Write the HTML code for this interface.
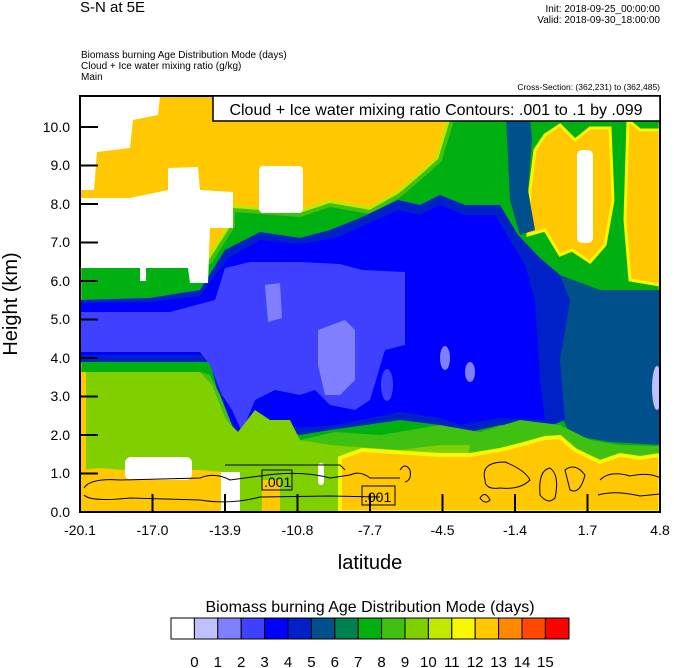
<!DOCTYPE html>
<html><head><meta charset="utf-8"><style>
html,body{margin:0;padding:0;background:#fff}
svg{display:block}
text{font-family:"Liberation Sans",Arial,sans-serif;fill:#000}
</style></head><body>
<svg width="674" height="668" viewBox="0 0 674 668" xmlns="http://www.w3.org/2000/svg">
<defs><clipPath id="pc"><rect x="80" y="96" width="580" height="416"/></clipPath></defs>
<text x="80" y="12" font-size="15">S-N at 5E</text>
<text x="660" y="12" font-size="10" text-anchor="end">Init: 2018-09-25_00:00:00</text>
<text x="660" y="23" font-size="10" text-anchor="end">Valid: 2018-09-30_18:00:00</text>
<text x="81" y="58" font-size="10">Biomass burning Age Distribution Mode   (days)</text>
<text x="81" y="69" font-size="10">Cloud + Ice water mixing ratio   (g/kg)</text>
<text x="81" y="80" font-size="10">Main</text>
<text x="660" y="90" font-size="8.5" text-anchor="end">Cross-Section: (362,231) to (362,485)</text>

<g clip-path="url(#pc)">
<rect x="80" y="96" width="580" height="416" fill="#ffc800"/>
<polygon points="80,262 210,262 233,226 233,210 300,215 330,205 370,212 400,195 420,178 440,160 452,120 458,96 660,96 660,512 80,512" fill="#00b010" stroke="#c0e800" stroke-width="10"/>
<polygon points="80,262 210,262 233,226 233,210 300,215 330,205 370,212 400,195 420,178 440,160 452,120 458,96 660,96 660,512 80,512" fill="#00b010" stroke="#40c010" stroke-width="4"/>
<polygon points="535,150 545,135 560,125 575,140 590,128 610,128 613,200 605,245 590,262 572,250 560,255 545,230 528,235 530,190" fill="#ffc800" stroke="#f8f800" stroke-width="3"/>
<polygon points="628,120 640,130 660,130 660,285 630,280 625,220" fill="#ffc800" stroke="#f8f800" stroke-width="3"/>
<polygon points="505,96 528,96 532,140 528,190 535,230 520,235 510,200" fill="#00508c"/>
<polygon points="560,275 600,290 660,290 660,445 610,442 570,435 555,400" fill="#00508c"/>
<polygon points="80,300 150,298 200,290 225,250 260,232 300,238 330,230 360,218 398,200 420,205 440,195 465,205 500,205 518,235 540,258 560,275 570,300 560,360 565,420 545,428 500,425 470,432 440,425 400,420 330,430 300,435 262,425 240,440 225,420 210,362 80,362" fill="#0020c8"/>
<polygon points="80,303 150,302 200,296 228,258 260,240 300,244 335,238 365,225 398,210 420,215 440,205 465,215 495,215 510,240 525,265 535,300 540,380 545,420 500,418 460,425 440,418 400,412 335,425 300,428 265,418 242,434 228,418 212,355 80,355" fill="#0000ff"/>
<polygon points="80,312 170,312 215,300 225,268 250,262 300,262 340,264 362,270 405,272 405,345 385,350 370,400 355,410 330,405 315,390 300,395 275,390 255,400 242,432 232,410 222,395 210,365 200,352 80,352" fill="#4040ff"/>
<polygon points="360,278 404,275 404,340 380,340 362,330" fill="#4040ff"/>
<polygon points="265,285 280,283 282,318 268,322" fill="#8080ff"/>
<polygon points="318,330 345,320 355,330 355,380 340,395 325,395 318,365" fill="#8080ff"/>
<ellipse cx="445" cy="358" rx="5" ry="12" fill="#8080ff"/>
<ellipse cx="470" cy="372" rx="5" ry="10" fill="#8080ff"/>
<ellipse cx="387" cy="385" rx="6" ry="16" fill="#4040ff"/>
<ellipse cx="657" cy="388" rx="5" ry="22" fill="#c0c0ff"/>
<polygon points="80,372 200,372 210,375 220,395 236,435 250,420 265,428 300,440 335,432 380,435 440,425 480,432 520,420 560,425 590,440 620,445 660,446 660,512 80,512" fill="#40c010"/>
<polygon points="80,372 200,372 212,385 226,420 238,432 255,410 270,420 290,420 300,440 330,445 400,450 440,445 470,445 460,512 80,512" fill="#80d000"/>
<polygon points="340,512 340,458 362,450 440,455 470,455 500,450 520,445 545,438 560,437 575,450 600,462 620,455 640,458 660,455 660,512" fill="#ffc800" stroke="#f8f800" stroke-width="4"/>
<polygon points="80,470 100,468 125,470 200,470 222,472 225,512 80,512" fill="#ffc800"/>
<polygon points="80,372 86,372 86,470 80,470" fill="#ffc800"/>
<rect x="125" y="457" width="67" height="23" rx="6" fill="#fff"/>
<rect x="221" y="472" width="19" height="40" fill="#fff"/>
<rect x="262" y="480" width="18" height="32" fill="#ffc800"/>
<rect x="318" y="463" width="6" height="22" rx="3" fill="#fff"/>
<polygon points="80,96 160,96 158,115 133,120 130,148 97,152 94,190 80,190" fill="#fff"/>
<polygon points="80,198 130,198 168,190 168,168 198,167 200,190 233,192 233,228 210,228 208,283 190,283 188,268 80,268" fill="#fff"/>
<rect x="259" y="166" width="44" height="47" rx="4" fill="#fff"/>
<rect x="577" y="150" width="16" height="93" rx="5" fill="#fff"/>
<rect x="140" y="266" width="6" height="15" fill="#fff"/>
<g fill="none" stroke="#000" stroke-width="1">
<path d="M84,488 Q90,478 120,480 L200,478 Q215,472 230,480 L260,476 Q300,470 330,478 L350,475 Q360,470 370,478 L400,478"/>
<path d="M84,495 Q90,502 130,498 L200,500 Q230,505 260,497 L330,496 L380,497"/>
<path d="M225,465 L340,465 L345,470"/>
<path d="M400,470 Q405,462 410,470 Q412,480 405,482"/>
<path d="M485,480 Q480,462 505,462 Q525,470 530,480 Q520,490 500,488 Q485,490 485,480 Z"/>
<path d="M540,495 Q538,470 550,468 Q560,475 555,498 Q548,505 540,495 Z"/>
<path d="M565,470 Q575,462 585,475 Q580,495 570,490 Z"/>
<path d="M600,480 Q610,470 630,476 Q650,472 660,478"/>
<path d="M598,495 Q615,490 640,496 L660,494"/>
<path d="M480,498 Q485,490 490,500 Q485,505 480,498 Z"/>
</g>
<rect x="262" y="470" width="30" height="20" fill="none" stroke="#000"/>
<text x="264" y="487" font-size="14">.001</text>
<rect x="362" y="486" width="33" height="19" fill="none" stroke="#000"/>
<text x="364" y="502" font-size="14">.001</text>
<g stroke="#000" stroke-width="2">
<line x1="80" y1="127" x2="98" y2="127"/><line x1="80" y1="165.5" x2="98" y2="165.5"/>
<line x1="80" y1="204" x2="98" y2="204"/><line x1="80" y1="242.5" x2="98" y2="242.5"/>
<line x1="80" y1="281" x2="98" y2="281"/><line x1="80" y1="319.5" x2="98" y2="319.5"/>
<line x1="80" y1="358" x2="98" y2="358"/><line x1="80" y1="396.5" x2="98" y2="396.5"/>
<line x1="80" y1="435" x2="98" y2="435"/><line x1="80" y1="473.5" x2="98" y2="473.5"/>
<line x1="152.5" y1="512" x2="152.5" y2="494"/><line x1="225" y1="512" x2="225" y2="494"/>
<line x1="297.5" y1="512" x2="297.5" y2="494"/><line x1="370" y1="512" x2="370" y2="494"/>
<line x1="442.5" y1="512" x2="442.5" y2="494"/><line x1="515" y1="512" x2="515" y2="494"/>
<line x1="587.5" y1="512" x2="587.5" y2="494"/>
</g>
</g>
<rect x="80" y="96" width="580" height="416" fill="none" stroke="#000" stroke-width="2"/>
<rect x="213" y="96" width="447" height="25" fill="#fff" stroke="#000" stroke-width="1.5"/>
<text x="436" y="115" font-size="16" text-anchor="middle">Cloud + Ice water mixing ratio Contours: .001 to .1 by .099</text>

<g font-size="14" text-anchor="end">
<text x="70" y="132">10.0</text><text x="70" y="170">9.0</text><text x="70" y="209">8.0</text>
<text x="70" y="247">7.0</text><text x="70" y="286">6.0</text><text x="70" y="324">5.0</text>
<text x="70" y="363">4.0</text><text x="70" y="401">3.0</text><text x="70" y="440">2.0</text>
<text x="70" y="478">1.0</text><text x="70" y="517">0.0</text>
</g>
<g font-size="14" text-anchor="middle">
<text x="80" y="535">-20.1</text><text x="152.5" y="535">-17.0</text><text x="225" y="535">-13.9</text>
<text x="297.5" y="535">-10.8</text><text x="370" y="535">-7.7</text><text x="442.5" y="535">-4.5</text>
<text x="515" y="535">-1.4</text><text x="587.5" y="535">1.7</text><text x="660" y="535">4.8</text>
</g>
<text x="370" y="569" font-size="20" text-anchor="middle">latitude</text>
<text transform="translate(17,304) rotate(-90)" font-size="20" text-anchor="middle">Height (km)</text>

<text x="370" y="612" font-size="16" text-anchor="middle">Biomass burning Age Distribution Mode  (days)</text>
<g stroke="#000" stroke-width="1">
<rect x="171" y="618" width="23.4" height="21" fill="#ffffff"/>
<rect x="194.4" y="618" width="23.4" height="21" fill="#c0c0ff"/>
<rect x="217.8" y="618" width="23.4" height="21" fill="#8080ff"/>
<rect x="241.2" y="618" width="23.4" height="21" fill="#4040ff"/>
<rect x="264.6" y="618" width="23.4" height="21" fill="#0000ff"/>
<rect x="288" y="618" width="23.4" height="21" fill="#0020c8"/>
<rect x="311.4" y="618" width="23.4" height="21" fill="#00508c"/>
<rect x="334.8" y="618" width="23.4" height="21" fill="#008050"/>
<rect x="358.2" y="618" width="23.4" height="21" fill="#00b010"/>
<rect x="381.6" y="618" width="23.4" height="21" fill="#40c010"/>
<rect x="405" y="618" width="23.4" height="21" fill="#80d000"/>
<rect x="428.4" y="618" width="23.4" height="21" fill="#c0e800"/>
<rect x="451.8" y="618" width="23.4" height="21" fill="#f8f800"/>
<rect x="475.2" y="618" width="23.4" height="21" fill="#ffc800"/>
<rect x="498.6" y="618" width="23.4" height="21" fill="#ff8800"/>
<rect x="522" y="618" width="23.4" height="21" fill="#ff4800"/>
<rect x="545.4" y="618" width="23.6" height="21" fill="#ff0000"/>
</g>
<g font-size="15" text-anchor="middle">
<text x="194.4" y="667">0</text><text x="217.8" y="667">1</text><text x="241.2" y="667">2</text>
<text x="264.6" y="667">3</text><text x="288" y="667">4</text><text x="311.4" y="667">5</text>
<text x="334.8" y="667">6</text><text x="358.2" y="667">7</text><text x="381.6" y="667">8</text>
<text x="405" y="667">9</text><text x="428.4" y="667">10</text><text x="451.8" y="667">11</text>
<text x="475.2" y="667">12</text><text x="498.6" y="667">13</text><text x="522" y="667">14</text>
<text x="545.4" y="667">15</text>
</g>
</svg>
</body></html>
